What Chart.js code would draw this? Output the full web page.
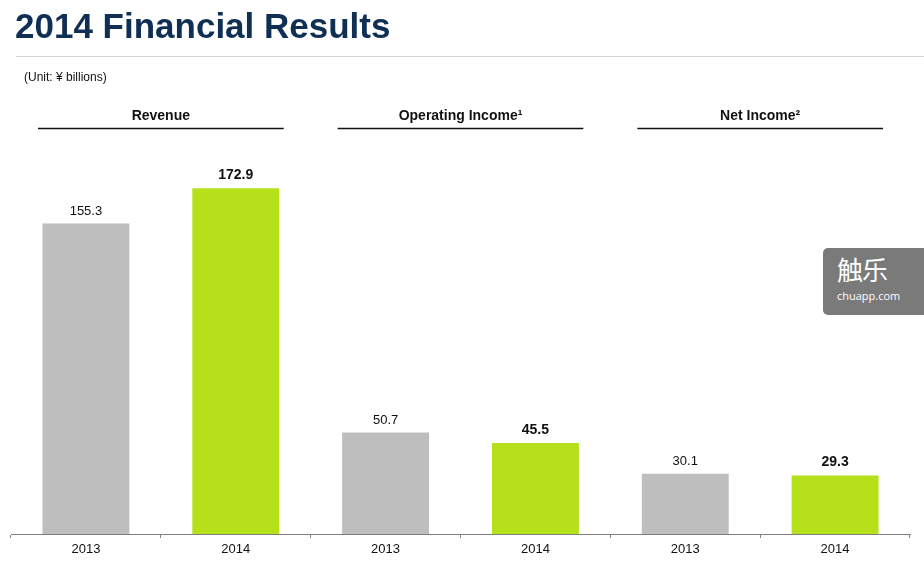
<!DOCTYPE html>
<html>
<head>
<meta charset="utf-8">
<script src="https://cdn.jsdelivr.net/npm/chart.js@4/dist/chart.umd.min.js"></script>
<style>
  html, body { margin: 0; padding: 0; background: #fff; }
  #wrap { position: relative; width: 924px; height: 565px; }
  #wm {
    position: absolute; left: 823px; top: 248px; width: 110px; height: 67px;
    background: #7a7a7a; border-radius: 5px; color: #fff;
    font-family: "Noto Sans CJK SC", sans-serif; text-align: left;
  }
  #wm .cn { position: absolute; left: 14px; top: 6px; font-size: 26px; line-height: 30px; letter-spacing: -1px; }
  #wm .en { position: absolute; left: 14px; top: 40px; font-size: 11px; font-family: "Open Sans", sans-serif; }
</style>
</head>
<body>
<div id="wrap">
  <canvas id="chart" width="924" height="565"></canvas>
  <div id="wm"><span class="cn">触乐</span><span class="en">chuapp.com</span></div>
</div>
<script>
const years = ['2013', '2014', '2013', '2014', '2013', '2014'];
const values = [155.3, 172.9, 50.7, 45.5, 30.1, 29.3];
const groups = ['Revenue', 'Operating Income¹', 'Net Income²'];
const barColors = ['#bebebe', '#b5e01a', '#bebebe', '#b5e01a', '#bebebe', '#b5e01a'];

const font = '"Liberation Sans", Arial, sans-serif';

// Title, headers, value labels
const decor = {
  id: 'decor',
  afterDraw(c) {
    const ctx = c.ctx;
    const x = c.scales.x;
    const meta = c.getDatasetMeta(0);
    ctx.save();

    ctx.fillStyle = '#0f3054';
    ctx.font = 'bold 35px ' + font;
    ctx.textBaseline = 'alphabetic';
    ctx.textAlign = 'left';
    ctx.fillText('2014 Financial Results', 15, 38);

    ctx.strokeStyle = '#d4d4d4';
    ctx.lineWidth = 1;
    ctx.beginPath();
    ctx.moveTo(16, 56.5);
    ctx.lineTo(924, 56.5);
    ctx.stroke();

    ctx.fillStyle = '#111';
    ctx.font = '12px ' + font;
    ctx.textBaseline = 'middle';
    ctx.fillText('(Unit: ¥ billions)', 24, 78);

    // group headers
    const step = (x.right - x.left) / years.length;
    groups.forEach((g, i) => {
      const l = x.left + step * 2 * i + 27;
      const r = x.left + step * 2 * (i + 1) - 27;
      ctx.fillStyle = '#111';
      ctx.font = 'bold 14px ' + font;
      ctx.textAlign = 'center';
      ctx.fillText(g, (l + r) / 2, 116);
      ctx.strokeStyle = '#111';
      ctx.lineWidth = 1.3;
      ctx.beginPath();
      ctx.moveTo(l, 128.5);
      ctx.lineTo(r, 128.5);
      ctx.stroke();
    });

    // value labels
    meta.data.forEach((bar, i) => {
      const bold = i % 2 === 1;
      ctx.font = (bold ? 'bold 14px ' : '13px ') + font;
      ctx.fillStyle = '#111';
      ctx.textAlign = 'center';
      ctx.textBaseline = 'middle';
      ctx.fillText(values[i].toFixed(1), bar.x, bar.y - (bold ? 13 : 12));
    });
    ctx.restore();
  }
};

new Chart(document.getElementById('chart'), {
  type: 'bar',
  data: {
    labels: years,
    datasets: [{
      data: values,
      backgroundColor: barColors,
      categoryPercentage: 1,
      barPercentage: 0.58,
    }],
  },
  options: {
    responsive: false,
    animation: false,
    layout: { padding: { top: 150, left: 11, right: 14, bottom: 0 } },
    plugins: { legend: { display: false }, tooltip: { enabled: false } },
    scales: {
      y: { display: false, min: 0, max: 192 },
      x: {
        grid: { drawOnChartArea: false, drawTicks: true, tickLength: 4, color: '#808080' },
        border: { color: '#808080', width: 1 },
        ticks: { color: '#111', font: { family: font, size: 13 }, padding: 4 },
        afterFit(s) { s.height = 31; },
      },
    },
  },
  plugins: [decor],
});
</script>
</body>
</html>
